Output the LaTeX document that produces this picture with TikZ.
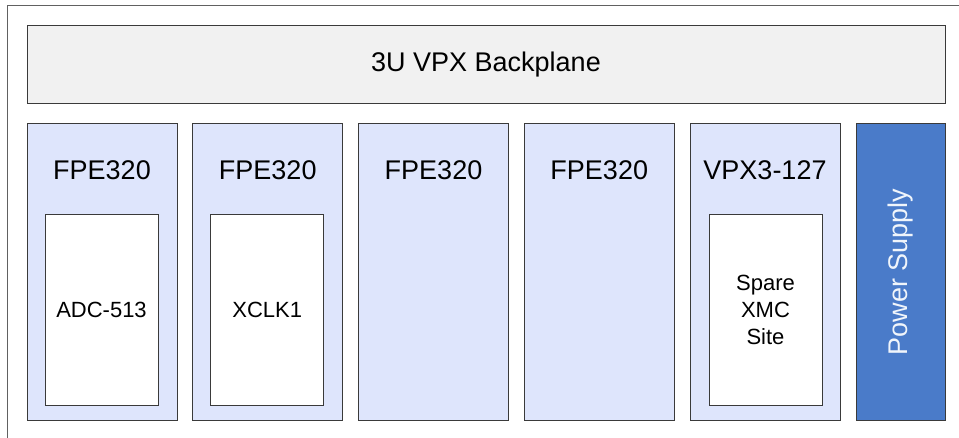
\documentclass[tikz,border=0pt]{standalone}
\usepackage{fontspec}
\setmainfont{Liberation Sans}
\usepackage{xcolor}
\usepackage{tikz}
\usetikzlibrary{positioning}

\definecolor{cardblue}{HTML}{DEE5FC}
\definecolor{psublue}{HTML}{4A7BC9}
\definecolor{planegray}{HTML}{F1F1F1}
\definecolor{edgegray}{HTML}{3A3A3A}

\begin{document}
\begin{tikzpicture}[x=1pt, y=-1pt, node distance=15.75pt]
    \tikzstyle{backplane} = [rectangle, draw=edgegray, fill=planegray, line width=1pt, minimum width=918pt, minimum height=78pt, outer sep=0pt, font=\fontsize{27}{31}\selectfont]
    \tikzstyle{card} = [rectangle, draw=edgegray, fill=cardblue, line width=1pt, minimum width=150pt, minimum height=296pt, outer sep=0pt]
    \tikzstyle{cardtitle} = [font=\fontsize{27}{31}\selectfont, inner sep=0pt]
    \tikzstyle{slot} = [rectangle, draw=edgegray, fill=white, line width=1pt, minimum width=113pt, minimum height=190pt, outer sep=0pt, align=center, font=\fontsize{22}{27}\selectfont]
    \tikzstyle{psu} = [rectangle, draw=edgegray, fill=psublue, line width=1pt, minimum width=89pt, minimum height=296pt, outer sep=0pt]

    \useasboundingbox (0,0) rectangle (959,438);

    % chassis outline, cut off at the right and bottom
    \draw [draw=edgegray!80, line width=1pt] (7.5,445) |- (965,6);

    \node [backplane] (bp) at (486,65) {3U VPX Backplane};

    % card slots
    \node [card] (c1) at (102,272) {};
    \node [card, right=of c1] (c2) {};
    \node [card, right=of c2] (c3) {};
    \node [card, right=of c3] (c4) {};
    \node [card, right=of c4] (c5) {};
    \node [psu, right=16pt of c5] (ps) {};

    \node [cardtitle] (t1) at ([yshift=-46.5pt]c1.north) {FPE320};
    \node [cardtitle] (t2) at ([yshift=-46.5pt]c2.north) {FPE320};
    \node [cardtitle] (t3) at ([yshift=-46.5pt]c3.north) {FPE320};
    \node [cardtitle] (t4) at ([yshift=-46.5pt]c4.north) {FPE320};
    \node [cardtitle] (t5) at ([yshift=-46.5pt]c5.north) {VPX3-127};

    % mezzanine sites
    \node [slot] (m1) at ([xshift=-0.5pt, yshift=-38pt]c1.center) {ADC-513};
    \node [slot] (m2) at ([xshift=-0.5pt, yshift=-38pt]c2.center) {XCLK1};
    \node [slot] (m5) at ([xshift=0.5pt, yshift=-38pt]c5.center) {Spare\\XMC\\Site};

    \node [cardtitle, rotate=90, text=white!92!psublue] (pl) at (ps.center) {Power Supply};
\end{tikzpicture}
\end{document}
